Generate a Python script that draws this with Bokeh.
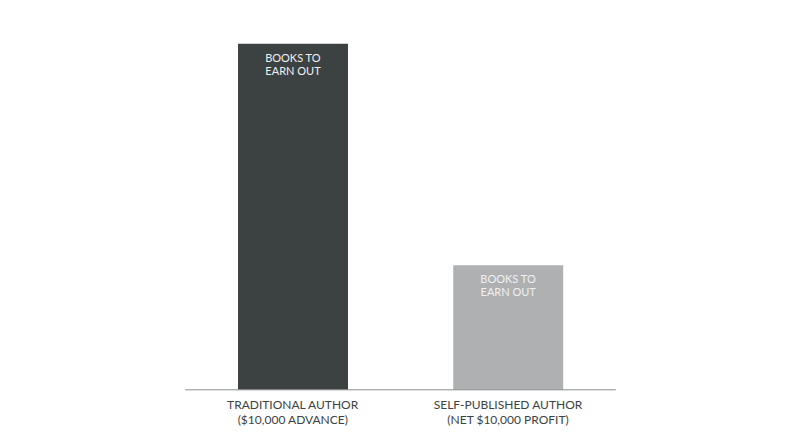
from bokeh.plotting import figure
from bokeh.models import Range1d, ColumnDataSource
from bokeh.core.properties import value
from bokeh.embed import file_html
from bokeh.resources import INLINE

# Data
categories = ["TRADITIONAL AUTHOR", "SELF-PUBLISHED AUTHOR"]
sublabels = ["($10,000 ADVANCE)", "(NET $10,000 PROFIT)"]
books = [6940, 2500]
bar_text_1 = ["BOOKS TO", "BOOKS TO"]
bar_text_2 = ["EARN OUT", "EARN OUT"]
colors = ["#3c4142", "#aeb0b2"]

xpos = [i + 0.5 for i in range(len(categories))]

W, H = 784, 431
p = figure(width=W, height=H, output_backend="svg", toolbar_location=None,
           x_range=Range1d(-0.8592, 2.7839),
           y_range=Range1d(-836.4, 7808.5),
           min_border=0, min_border_left=0, min_border_right=0,
           min_border_top=0, min_border_bottom=0)
p.axis.visible = False
p.grid.visible = False
p.outline_line_color = None
p.background_fill_color = "white"
p.border_fill_color = "white"

src = ColumnDataSource(dict(x=xpos, top=books, color=colors,
                            t1=bar_text_1, t2=bar_text_2,
                            cat=categories, sub=sublabels))

p.vbar(x="x", top="top", bottom=0, width=0.511, fill_color="color",
       line_color=None, source=src)

# baseline
p.segment(x0=[0], x1=[len(categories)], y0=[0], y1=[0],
          line_color="#8a8d8e", line_width=1)

font = value("Lato")
p.text(x="x", y="top", text="t1", source=src, y_offset=13.5,
       text_align="center", text_baseline="middle", text_font=font,
       text_font_size="11px", text_color="#f0f0f0")
p.text(x="x", y="top", text="t2", source=src, y_offset=26.5,
       text_align="center", text_baseline="middle", text_font=font,
       text_font_size="11px", text_color="#f0f0f0")

p.text(x="x", y=0, text="cat", source=src, y_offset=15,
       text_align="center", text_baseline="middle", text_font=font,
       text_font_size="12px", text_color="#3d4242")
p.text(x="x", y=0, text="sub", source=src, y_offset=30,
       text_align="center", text_baseline="middle", text_font=font,
       text_font_size="12px", text_color="#3d4242")

open("out.html", "w").write(file_html(p, INLINE))
